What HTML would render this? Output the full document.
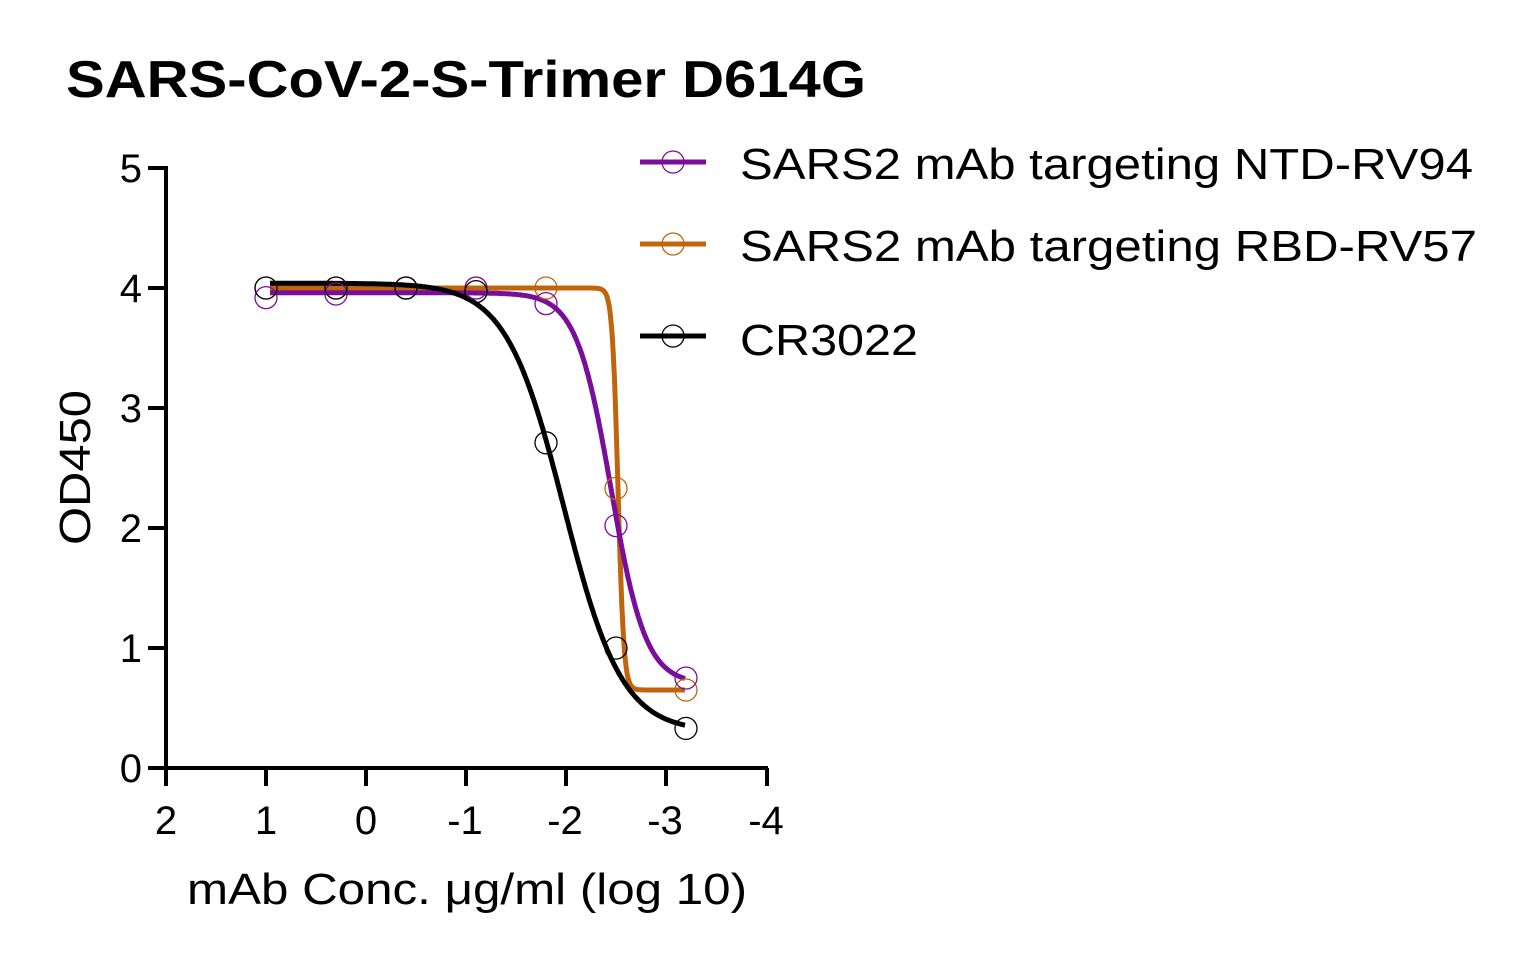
<!DOCTYPE html>
<html><head><meta charset="utf-8"><style>
body{margin:0;background:#fff;width:1523px;height:957px;overflow:hidden}
text{font-family:"Liberation Sans",Arial,sans-serif}
</style></head><body>
<svg id="s" width="1523" height="957" xmlns="http://www.w3.org/2000/svg">
<text x="66" y="97" font-size="52" font-weight="bold" textLength="800" lengthAdjust="spacingAndGlyphs">SARS-CoV-2-S-Trimer D614G</text>
<g stroke="#000" stroke-width="4" fill="none">
<path d="M166,166 V768 H768"/>
<path d="M148,168H166M148,288H166M148,408H166M148,528H166M148,648H166M148,768H166"/>
<path d="M166,768V786M266,768V786M366,768V786M466,768V786M566,768V786M666,768V786M767,768V786"/>
</g>
<g font-size="40" text-anchor="end">
<text x="142" y="182">5</text><text x="142" y="302">4</text><text x="142" y="422">3</text>
<text x="142" y="542">2</text><text x="142" y="662">1</text><text x="142" y="782">0</text>
</g>
<g font-size="40" text-anchor="middle">
<text x="166" y="834">2</text><text x="266" y="834">1</text><text x="366" y="834">0</text>
<text x="465" y="834">-1</text><text x="565" y="834">-2</text><text x="665" y="834">-3</text><text x="766" y="834">-4</text>
</g>
<text x="187" y="904" font-size="44" textLength="560" lengthAdjust="spacingAndGlyphs">mAb Conc. μg/ml (log 10)</text>
<text transform="translate(90,545) rotate(-90)" font-size="44" textLength="155" lengthAdjust="spacingAndGlyphs">OD450</text>
<g id="curves" fill="none" stroke-width="5"></g>
<g id="pts" fill="none" stroke-width="1.3"></g>
<g stroke-width="5">
<line x1="640" y1="162" x2="706" y2="162" stroke="#7a0e9c"/>
<line x1="640" y1="244" x2="706" y2="244" stroke="#c0650c"/>
<line x1="640" y1="336" x2="706" y2="336" stroke="#000"/>
</g>
<g fill="none" stroke-width="1.3">
<circle cx="673" cy="162" r="11" stroke="#7a0e9c"/>
<circle cx="673" cy="244" r="11" stroke="#c0650c"/>
<circle cx="673" cy="336" r="11" stroke="#000"/>
</g>
<g font-size="44">
<text x="740" y="179" textLength="733" lengthAdjust="spacingAndGlyphs">SARS2 mAb targeting NTD-RV94</text>
<text x="740" y="261" textLength="737" lengthAdjust="spacingAndGlyphs">SARS2 mAb targeting RBD-RV57</text>
<text x="740" y="355" textLength="178" lengthAdjust="spacingAndGlyphs">CR3022</text>
</g>
</svg>
<script>
var X=function(v){return 366-100*v},Y=function(v){return 768-120*v};
var series=[
 {c:"#c0650c",top:4.0,bot:0.65,x50:-2.52,h:15,pts:[4.0,4.0,4.0,4.0,4.0,2.33,0.65]},
 {c:"#7a0e9c",top:3.96,bot:0.7,x50:-2.45,h:2.5,pts:[3.92,3.95,4.0,4.0,3.87,2.02,0.75]},
 {c:"#000",top:4.04,bot:0.3,x50:-1.98,h:1.5,pts:[4.0,4.0,4.0,3.97,2.71,1.0,0.33]}
];
var xs=[1,0.3,-0.4,-1.1,-1.8,-2.5,-3.2];
var ns="http://www.w3.org/2000/svg",cg=document.getElementById("curves"),pg=document.getElementById("pts");
series.forEach(function(s){
 var d="";
 for(var i=0;i<=400;i++){var x=0.96-i*(4.15/400);var u=s.x50-x;var f=1/(1+Math.pow(10,s.h*u));var y=s.bot+(s.top-s.bot)*f;d+=(i?"L":"M")+X(x).toFixed(1)+","+Y(y).toFixed(1);}
 var p=document.createElementNS(ns,"path");p.setAttribute("d",d);p.setAttribute("stroke",s.c);cg.appendChild(p);
 s.pts.forEach(function(v,i){var c=document.createElementNS(ns,"circle");c.setAttribute("cx",X(xs[i]));c.setAttribute("cy",Y(v));c.setAttribute("r",11);c.setAttribute("stroke",s.c);pg.appendChild(c);});
});
</script>
</body></html>
